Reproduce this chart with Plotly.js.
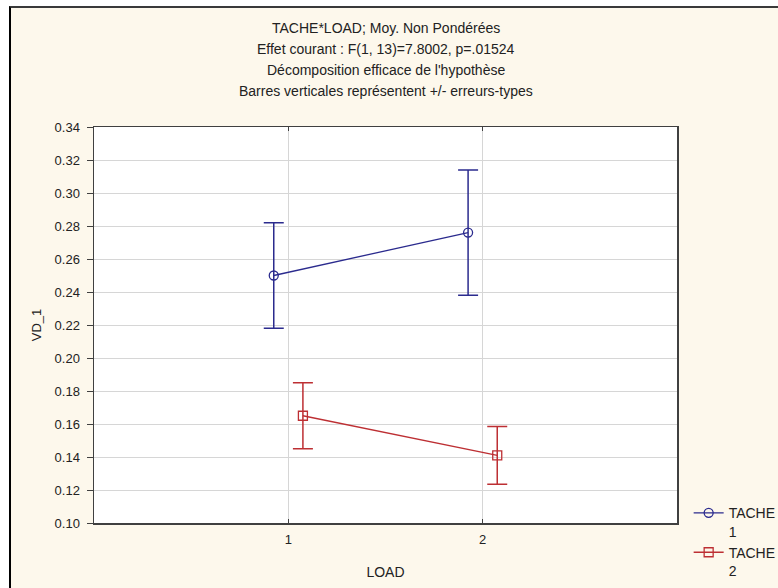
<!DOCTYPE html>
<html>
<head>
<meta charset="utf-8">
<script src="https://cdn.plot.ly/plotly-3.0.1.min.js"></script>
<style>
  html, body { margin: 0; padding: 0; background: #ffffff; overflow: hidden; width: 778px; height: 588px; }
  #frame { position: absolute; left: 9px; top: 6px; border-left: 2px solid #000000; border-top: 2px solid #3a3a3a; }
  #chart { width: 790px; height: 600px; }
</style>
</head>
<body>
<div id="frame"><div id="chart"></div></div>
<script>
// ---- data ----
const LOAD = [1, 2];
const tache1Mean = [0.250, 0.276];
const tache1SE = [0.032, 0.038];
const tache2Mean = [0.165, 0.141];
const tache2SE = [0.020, 0.0175];
const seriesNames = ['TACHE<br>1', 'TACHE<br>2'];
const titleLines = [
  'TACHE*LOAD; Moy. Non Pondérées',
  'Effet courant : F(1, 13)=7.8002, p=.01524',
  "Décomposition efficace de l'hypothèse",
  'Barres verticales représentent +/- erreurs-types'
];
const xAxisTitle = 'LOAD';
const yAxisTitle = 'VD_1';

// ---- styling ----
const FONT = 'Liberation Sans, Arial, sans-serif';
const TXT = '#222222';
const BLUE = '#2b2b8e';
const RED = '#bd2f33';
const dodge = 0.075;

function series(name, means, se, color, symbol, offset) {
  return {
    type: 'scatter',
    mode: 'lines+markers',
    name: name,
    x: LOAD.map(v => v + offset),
    y: means,
    error_y: { type: 'data', array: se, visible: true, color: color, thickness: 1.5, width: 10 },
    line: { color: color, width: 1.3 },
    marker: { symbol: symbol, size: 9, color: color, line: { color: color, width: 1.3 } },
    hoverinfo: 'skip'
  };
}

const traces = [
  series(seriesNames[0], tache1Mean, tache1SE, BLUE, 'circle-open', -dodge),
  series(seriesNames[1], tache2Mean, tache2SE, RED, 'square-open', dodge)
];

const titleY = [1.2500, 1.1970, 1.1440, 1.0910];
const annotations = titleLines.map((t, i) => ({
  text: t, xref: 'paper', yref: 'paper', x: 0.5, y: titleY[i],
  xanchor: 'center', yanchor: 'middle', showarrow: false,
  font: { family: FONT, size: 14, color: TXT }
}));

const axisCommon = {
  showline: true, linecolor: '#404040', linewidth: 1.5,
  gridcolor: '#d6d6d6', gridwidth: 1, zeroline: false,
  tickcolor: '#404040', tickfont: { family: FONT, size: 13, color: TXT }
};

const layout = {
  width: 790, height: 600,
  margin: { l: 83, r: 124, t: 119, b: 85, pad: 0 },
  paper_bgcolor: '#fdf8ec',
  plot_bgcolor: '#ffffff',
  font: { family: FONT, color: TXT },
  showlegend: true,
  hovermode: false,
  annotations: annotations,
  xaxis: Object.assign({}, axisCommon, {
    range: [0, 3], tickvals: LOAD, ticktext: LOAD.map(String),
    ticks: 'inside', ticklen: 4, mirror: 'ticks', showgrid: true,
    ticklabelstandoff: 4,
    title: { text: xAxisTitle, font: { family: FONT, size: 14, color: TXT }, standoff: 21 }
  }),
  yaxis: Object.assign({}, axisCommon, {
    range: [0.10, 0.34], tick0: 0.10, dtick: 0.02, tickformat: '.2f',
    ticks: 'outside', ticklen: 6, mirror: true, showgrid: true,
    ticklabelstandoff: 4,
    title: { text: yAxisTitle, font: { family: FONT, size: 13, color: TXT }, standoff: 10 }
  }),
  yaxis2: {
    overlaying: 'y', side: 'right', anchor: 'x',
    range: [0.10, 0.34], tick0: 0.10, dtick: 0.02,
    ticks: 'inside', ticklen: 5, tickcolor: '#404040',
    showticklabels: false, showgrid: false, showline: false, zeroline: false
  },
  legend: {
    x: 1.02, y: 0.065, xanchor: 'left', yanchor: 'top',
    bgcolor: 'rgba(0,0,0,0)', borderwidth: 0,
    font: { family: FONT, size: 14, color: TXT },
    valign: 'top', itemwidth: 30, tracegroupgap: 0
  }
};

Plotly.newPlot('chart', traces, layout, { staticPlot: true, displayModeBar: false });
</script>
</body>
</html>
